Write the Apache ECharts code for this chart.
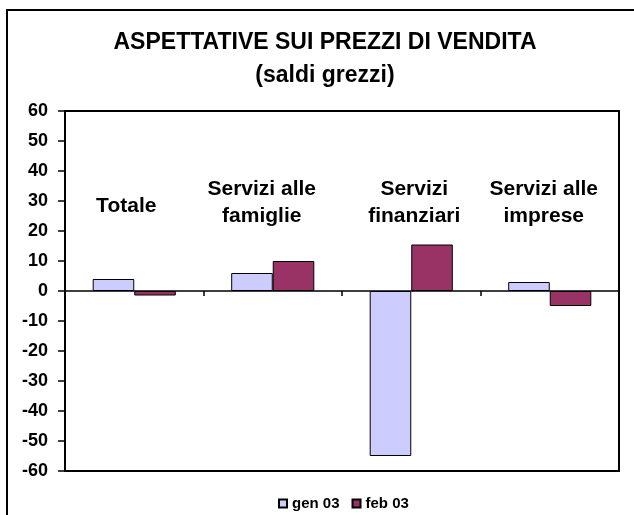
<!DOCTYPE html>
<html>
<head>
<meta charset="utf-8">
<script src="https://cdn.jsdelivr.net/npm/echarts@6/dist/echarts.min.js"></script>
<style>
html,body{margin:0;padding:0;background:#fff;}
#wrap{position:relative;width:634px;height:515px;overflow:hidden;}
#frame{position:absolute;left:6px;top:9px;width:700px;height:600px;border-left:2px solid #000;border-top:2px solid #000;}
#chart{position:absolute;left:0;top:0;width:634px;height:515px;}
</style>
</head>
<body>
<div id="wrap"><div id="frame"></div><div id="chart"></div></div>
<script>
const categories = ['Totale', 'Servizi alle\nfamiglie', 'Servizi\nfinanziari', 'Servizi alle\nimprese'];
const gen03 = [4, 6, -55, 3];
const feb03 = [-1.5, 10, 15.5, -5];
const yTicks = { min: -60, max: 60, step: 10 };
const seriesNames = ['gen 03', 'feb 03'];

const font = 'Liberation Sans, Arial, sans-serif';
const labelBase = { fontFamily: font, fontSize: 21, fontWeight: 'bold', color: '#000', lineHeight: 27 };
const rich = {
  c0: Object.assign({}, labelBase, { padding: [6, 16, 0, 0] }),
  c1: Object.assign({}, labelBase, { padding: [0, 22, 0, 0] }),
  c2: Object.assign({}, labelBase, { padding: [0, 0, 0, 6] }),
  c3: Object.assign({}, labelBase, { padding: [0, 12, 0, 0] })
};
const chart = echarts.init(document.getElementById('chart'), null, { renderer: 'canvas' });
chart.setOption({
  animation: false,
  backgroundColor: 'transparent',
  title: {
    text: 'ASPETTATIVE SUI PREZZI DI VENDITA\n(saldi grezzi)',
    left: 320, top: 21, textAlign: 'center',
    textStyle: { fontFamily: font, fontSize: 23, fontWeight: 'bold', color: '#000', lineHeight: 33 }
  },
  grid: { left: 65, top: 111, right: 15, bottom: 44, show: true, borderColor: '#000', borderWidth: 2, backgroundColor: 'transparent' },
  legend: {
    data: seriesNames, left: 273, top: 491, itemWidth: 8, itemHeight: 8, itemGap: 12,
    icon: 'rect',
    textStyle: { fontFamily: font, fontSize: 15, fontWeight: 'bold', color: '#000' }
  },
  xAxis: [
    {
      type: 'category', data: categories,
      axisLine: { onZero: true, lineStyle: { color: '#000', width: 1.5 } },
      axisTick: { show: true, length: 5, lineStyle: { color: '#000', width: 1.5 } },
      axisLabel: { show: false },
      splitLine: { show: false }
    },
    {
      type: 'category', data: categories, position: 'top', offset: -92,
      axisLine: { show: false }, axisTick: { show: false },
      axisLabel: { show: true, margin: 0, verticalAlign: 'middle', interval: 0,
        fontFamily: font, fontSize: 21, fontWeight: 'bold', color: '#000', lineHeight: 27,
        formatter: function (v, i) {
          return v.split('\n').map(function (s) { return '{c' + i + '|' + s + '}'; }).join('\n');
        },
        rich: rich },
      splitLine: { show: false }
    }
  ],
  yAxis: {
    type: 'value', min: yTicks.min, max: yTicks.max, interval: yTicks.step,
    axisLine: { show: true, lineStyle: { color: '#000', width: 2 } },
    axisTick: { show: true, length: 7, lineStyle: { color: '#000', width: 1.5 } },
    axisLabel: { margin: 17, fontFamily: font, fontSize: 18, fontWeight: 'bold', color: '#000' },
    splitLine: { show: false }
  },
  series: [
    { name: seriesNames[0], type: 'bar', data: gen03, barGap: '0%', barCategoryGap: '40%',
      itemStyle: { color: '#CCCCFF', borderColor: '#000', borderWidth: 1 } },
    { name: seriesNames[1], type: 'bar', data: feb03,
      itemStyle: { color: '#993366', borderColor: '#000', borderWidth: 1 } }
  ]
});
</script>
</body>
</html>
